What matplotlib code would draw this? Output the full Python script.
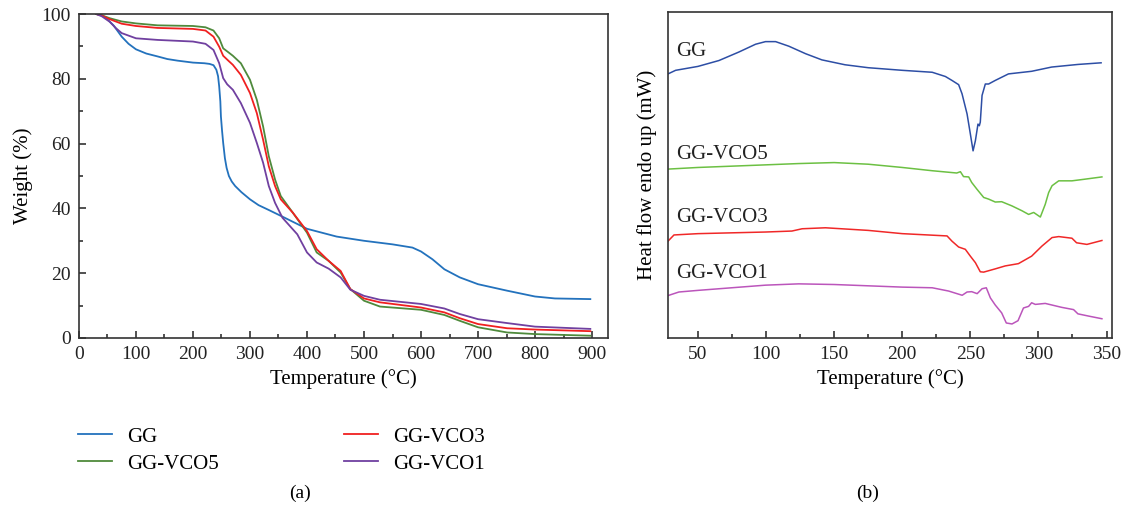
import matplotlib
matplotlib.use("Agg")
import matplotlib.pyplot as plt
from matplotlib.ticker import MultipleLocator

plt.rcParams['font.family'] = ['Liberation Serif', 'DejaVu Serif']

# --- TGA data (panel a) ---
tga_gg_t = [30, 38, 44, 52, 61, 68, 75, 87, 100, 118, 138, 155, 173, 200, 220, 229, 236, 241, 244,
            246, 248, 249, 251, 253, 256, 259, 263, 268, 274, 285, 300, 315, 333, 361, 400, 452, 500,
            550, 585, 600, 620, 641, 668, 700, 751, 800, 835, 897]
tga_gg_w = [100, 99.8, 99.2, 98.0, 96.4, 94.7, 93.0, 90.8, 89.1, 87.8, 86.9, 86.1, 85.6, 85.0, 84.8,
            84.6, 84.2, 82.8, 80.8, 77.6, 73.0, 68.4, 64.0, 60.2, 55.5, 52.5, 50.0, 48.3, 46.9, 45.0,
            42.8, 41.0, 39.5, 37.1, 33.7, 31.3, 30.0, 28.9, 27.9, 26.7, 24.3, 21.2, 18.7, 16.6, 14.6,
            12.8, 12.2, 12.0]

tga_t = [30, 40, 54, 75, 100, 138, 200, 222, 236, 246, 253, 262, 270, 284, 300, 312, 323, 333, 344,
         354, 375, 400, 417, 438, 459, 476, 500, 528, 600, 641, 668, 700, 751, 800, 897]
tga_vco5_w = [100, 99.6, 98.7, 97.7, 97.1, 96.5, 96.3, 95.9, 94.9, 92.5, 89.4, 88.2, 87.1, 84.8, 79.7,
              73.5, 65.3, 56.1, 48.9, 43.8, 38.7, 32.5, 26.4, 23.8, 20.2, 15.1, 11.5, 9.7, 8.7, 7.1,
              5.3, 3.3, 1.7, 1.2, 0.7]
tga_vco3_w = [100, 99.5, 98.4, 97.0, 96.3, 95.7, 95.4, 94.9, 93.0, 89.9, 87.1, 85.6, 84.3, 81.2, 75.6,
              69.4, 61.2, 53.0, 46.9, 42.8, 38.7, 33.0, 27.4, 23.8, 20.7, 15.1, 12.2, 11.0, 9.4, 7.9,
              6.1, 4.3, 3.0, 2.6, 2.1]

tga_vco1_t = [30, 40, 54, 65, 75, 100, 138, 200, 222, 236, 246, 253, 260, 270, 284, 300, 312, 323,
              333, 344, 357, 383, 400, 417, 438, 459, 476, 500, 528, 600, 641, 668, 700, 751, 800, 897]
tga_vco1_w = [100, 99.3, 97.6, 95.6, 94.1, 92.5, 92.0, 91.5, 90.8, 88.9, 84.8, 80.2, 78.3, 76.6, 72.5,
              66.4, 60.2, 54.1, 46.9, 41.7, 37.1, 32.0, 26.4, 23.3, 21.4, 18.7, 14.9, 13.0, 11.8, 10.5,
              9.1, 7.4, 5.8, 4.6, 3.5, 2.8]

# --- DSC data (panel b), heat flow in arbitrary offset units ---
dsc_gg_t = [28, 33.6, 50, 65.4, 80, 92.3, 99.6, 107, 116.7, 129, 141, 158, 175, 200, 222, 231.7,
            236.5, 241.4, 243.9, 247.6, 250, 252, 253.7, 255.6, 256.6, 257.3, 258.6, 261, 263.4,
            268.3, 278, 295, 309.7, 329, 346]
dsc_gg_h = [81.0, 82.1, 83.3, 85.1, 87.7, 90.1, 90.9, 90.9, 89.5, 87.2, 85.3, 83.8, 82.9, 82.1, 81.5,
            80.2, 79.0, 77.7, 74.9, 68.7, 62.6, 57.4, 60.5, 65.6, 65.1, 66.2, 74.4, 77.9, 77.9, 79.0,
            81.0, 81.8, 83.1, 83.9, 84.4]

dsc_vco5_t = [28, 50, 99.6, 124, 150, 175, 200, 222, 240, 242.7, 245, 248.8, 251, 254.9, 259.8,
              263.4, 268.3, 273, 280.6, 288, 292.8, 296.5, 301.4, 305, 307.5, 310, 314.9, 324.6,
              334, 346.6]
dsc_vco5_h = [51.8, 52.3, 53.1, 53.5, 53.8, 53.3, 52.3, 51.3, 50.6, 51.0, 49.5, 49.4, 47.7, 45.6, 43.1,
              42.6, 41.7, 41.8, 40.5, 39.0, 37.9, 38.5, 37.1, 41.0, 44.6, 46.7, 48.2, 48.2, 48.7, 49.4]

dsc_vco3_t = [28, 32.4, 50, 99.6, 119, 126.5, 143.6, 175, 200, 232.9, 236.5, 241.4, 246.3, 250,
              253.7, 257.3, 259.8, 268.3, 275.6, 285.3, 295, 302.6, 310, 314.9, 324.6, 328, 335.6,
              346.6]
dsc_vco3_h = [29.7, 31.6, 32.0, 32.5, 32.8, 33.5, 33.8, 33.0, 32.0, 31.3, 29.7, 27.9, 27.2, 25.1,
              23.1, 20.3, 20.2, 21.2, 22.1, 22.8, 25.1, 28.2, 30.8, 31.1, 30.6, 29.2, 28.7, 29.9]

dsc_vco1_t = [28, 36, 50, 99.6, 124, 150, 200, 222, 234, 244, 247.6, 251, 255, 258.6, 261.7, 264.7,
              268.3, 273, 276.4, 280.6, 285, 289, 292.8, 295, 297.7, 305, 317, 325.8, 329, 337,
              346.6]
dsc_vco1_h = [13.0, 14.1, 14.6, 16.2, 16.6, 16.4, 15.6, 15.4, 14.4, 13.1, 14.1, 14.2, 13.6, 15.1,
              15.4, 12.3, 10.1, 7.7, 4.6, 4.3, 5.3, 9.2, 9.7, 10.8, 10.3, 10.6, 9.4, 8.7, 7.4, 6.7,
              5.9]

dsc_names = ["GG", "GG-VCO5", "GG-VCO3", "GG-VCO1"]
dsc_name_y = [87.8, 56.3, 37.0, 19.7]


def style_axes(ax):
    ax.tick_params(which='both', direction='in', labelsize=14, colors='#222222', pad=6)
    ax.tick_params(which='major', length=5, width=1.1)
    ax.tick_params(which='minor', length=3, width=1.1)
    for s in ax.spines.values():
        s.set_color('#333333')
        s.set_linewidth(1.2)


def main():
    fig = plt.figure(figsize=(11.28, 5.11), dpi=100)

    # --- panel (a) TGA ---
    ax1 = fig.add_axes([0.070, 0.3386, 0.469, 0.634])
    ax1.plot(tga_gg_t, tga_gg_w, color='#2372bd', lw=1.3, label='GG')
    ax1.plot(tga_t, tga_vco5_w, color='#4f8a3c', lw=1.3, label='GG-VCO5')
    ax1.plot(tga_t, tga_vco3_w, color='#f02020', lw=1.3, label='GG-VCO3')
    ax1.plot(tga_vco1_t, tga_vco1_w, color='#7040a0', lw=1.3, label='GG-VCO1')
    ax1.set_xlim(0, 928)
    ax1.set_ylim(0, 100)
    ax1.xaxis.set_major_locator(MultipleLocator(100))
    ax1.xaxis.set_minor_locator(MultipleLocator(50))
    ax1.yaxis.set_major_locator(MultipleLocator(20))
    ax1.yaxis.set_minor_locator(MultipleLocator(10))
    style_axes(ax1)
    ax1.set_xlabel('Temperature (°C)', fontsize=15, labelpad=4)
    ax1.set_ylabel('Weight (%)', fontsize=15, labelpad=6)
    fig.legend(*ax1.get_legend_handles_labels(), loc='upper left',
               bbox_to_anchor=(78 / 1128, 1 - 427 / 511), ncol=2, frameon=False,
               fontsize=15, handlelength=1.65, handletextpad=0.7, columnspacing=6.0,
               labelspacing=0.36, borderaxespad=0, borderpad=0)

    # --- panel (b) DSC ---
    ax2 = fig.add_axes([0.5922, 0.3386, 0.3936, 0.638])
    ax2.plot(dsc_gg_t, dsc_gg_h, color='#2d4ea5', lw=1.1)
    ax2.plot(dsc_vco5_t, dsc_vco5_h, color='#6cc043', lw=1.1)
    ax2.plot(dsc_vco3_t, dsc_vco3_h, color='#f02828', lw=1.1)
    ax2.plot(dsc_vco1_t, dsc_vco1_h, color='#bb55bb', lw=1.1)
    for name, y in zip(dsc_names, dsc_name_y):
        ax2.text(34, y, name, fontsize=15, va='center', ha='left', color='#222222')
    ax2.set_xlim(28, 354)
    ax2.set_ylim(0, 100)
    ax2.xaxis.set_major_locator(MultipleLocator(50))
    ax2.xaxis.set_minor_locator(MultipleLocator(25))
    ax2.set_yticks([])
    style_axes(ax2)
    ax2.set_xlabel('Temperature (°C)', fontsize=15, labelpad=4)
    ax2.set_ylabel('Heat flow endo up (mW)', fontsize=15, labelpad=8)

    # captions
    fig.text(300 / 1128, 1 - 493 / 511, '(a)', ha='center', va='center', fontsize=14)
    fig.text(868 / 1128, 1 - 493 / 511, '(b)', ha='center', va='center', fontsize=14)

    fig.savefig('out.png', dpi=100)


if __name__ == "__main__":
    main()
